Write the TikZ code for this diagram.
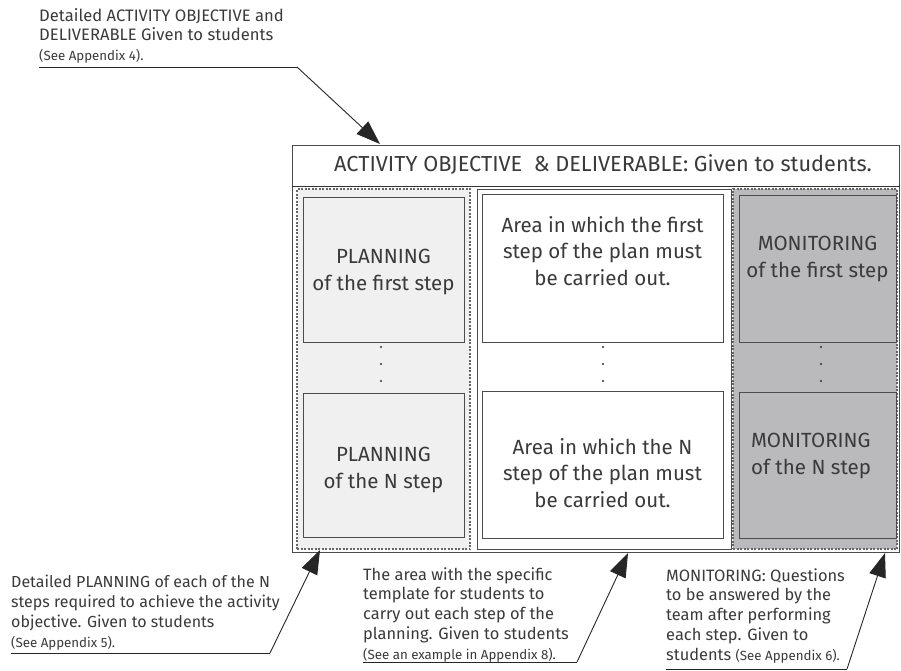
\documentclass[tikz,border=0pt]{standalone}
\usepackage{fontspec}
\setmainfont{Fira Sans}
\usetikzlibrary{arrows.meta}
\definecolor{planfill}{RGB}{240,240,240}
\definecolor{monfill}{RGB}{186,186,189}
\definecolor{inkgray}{RGB}{58,58,58}
\newcommand{\notesmall}{\fontsize{13.3}{17}\selectfont}

\begin{document}
\begin{tikzpicture}[x=1pt,y=-1pt]
        \tikzstyle{every node}=[inner sep=0pt, text=inkgray]
        \tikzstyle{box}=[rectangle, draw=black!70, line width=1pt]
        \tikzstyle{column}=[rectangle, draw=black!60, line width=1.1pt, dash pattern=on 2pt off 1.5pt]
        \tikzstyle{boxtext}=[font=\fontsize{20.5}{26.5}\selectfont, align=center]
        \tikzstyle{note}=[font=\fontsize{16.4}{19.8}\selectfont, align=left, anchor=north west]
        \tikzstyle{pointer}=[draw=black!85, line width=0.9pt, -{Triangle[length=24pt,width=17pt]}]
        \useasboundingbox (0,0) rectangle (901,670);
        % frame and title
        \node[box, fill=white, minimum width=607, minimum height=407] (frame) at (595.5,348.5) {};
        \node[box, minimum width=607, minimum height=41] (title) at (595.5,165.5) {};
        \node[font=\fontsize{21.7}{24}\selectfont] (title-text) at (603,165) {ACTIVITY OBJECTIVE~~\& DELIVERABLE: Given to students.};
        \draw[line width=1.8pt, black!80] (title.south west) -- (title.south east);
        % three columns
        \node[column, fill=planfill, minimum width=173, minimum height=360] (plan) at (383.5,369) {};
        \node[box, minimum width=254, minimum height=360] (area) at (604,369) {};
        \node[column, fill=monfill, minimum width=164, minimum height=360] (mon) at (815,369) {};
        % first and N step boxes
        \node[box, fill=planfill, minimum width=161, minimum height=145] (p1) at (383.5,269.5) {};
        \node[box, fill=planfill, minimum width=161, minimum height=144] (pN) at (383.5,465) {};
        \node[box, fill=white, minimum width=241, minimum height=148] (a1) at (602.5,268) {};
        \node[box, fill=white, minimum width=241, minimum height=147] (aN) at (602.5,464.5) {};
        \node[box, fill=monfill, minimum width=157, minimum height=147] (m1) at (817.5,268.5) {};
        \node[box, fill=monfill, minimum width=157, minimum height=146] (mN) at (817.5,465) {};
        \node[boxtext] (p1-text) at (383.5,272) {PLANNING\\of the first step};
        \node[boxtext] (pN-text) at (383.5,470) {PLANNING\\of the N step};
        \node[boxtext] (a1-text) at (602.5,251) {Area in which the first\\step of the plan must\\be carried out.};
        \node[boxtext] (aN-text) at (602.5,473) {Area in which the N\\step of the plan must\\be carried out.};
        \node[boxtext] (m1-text) at (817.5,259) {MONITORING\\of the first step};
        \node[boxtext, align=left, anchor=west] (mN-text) at (751,456) {MONITORING\\of the N step};
        \foreach \x in {381,603,821}
            \foreach \y in {347,364,381}
                \fill[black!80] (\x,\y) circle (1.2pt);
        % notes with pointers
        \node[note, font=\fontsize{16.6}{19.8}\selectfont] (obj-note) at (39,8) {Detailed ACTIVITY OBJECTIVE and\\DELIVERABLE Given to students\\\notesmall(See Appendix 4).};
        \node[note, font=\fontsize{16}{19.8}\selectfont] (plan-note) at (11,575) {Detailed PLANNING of each of the N\\steps required to achieve the activity\\objective. Given to students\\\notesmall(See Appendix 5).};
        \node[note] (area-note) at (363,567) {The area with the specific\\template for students to\\carry out each step of the\\planning. Given to students\\\notesmall(See an example in Appendix 8).};
        \node[note, font=\fontsize{16.4}{19.9}\selectfont] (mon-note) at (666,568) {MONITORING: Questions\\to be answered by the\\team after performing\\each step. Given to\\students {\notesmall(See Appendix 6).}};
        \coordinate (obj-a) at (39,67);   \coordinate (obj-b) at (297,67);   \coordinate (obj-tip) at (380,144);
        \coordinate (plan-a) at (11,653); \coordinate (plan-b) at (270,653); \coordinate (plan-tip) at (320,550);
        \coordinate (area-a) at (363,662); \coordinate (area-b) at (577,662); \coordinate (area-tip) at (628,553);
        \coordinate (mon-a) at (666,669); \coordinate (mon-b) at (847,669); \coordinate (mon-tip) at (885,553);
        \foreach \n in {obj,plan,area,mon}{
            \draw[black!85, line width=0.9pt] (\n-a) -- (\n-b);
            \draw[pointer] (\n-b) -- (\n-tip);
        }
\end{tikzpicture}
\end{document}
